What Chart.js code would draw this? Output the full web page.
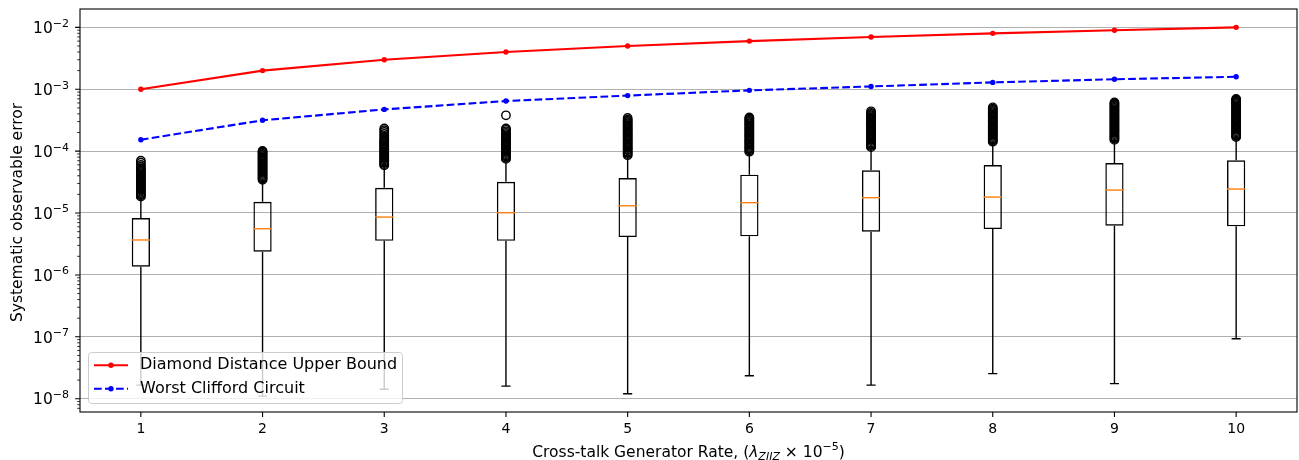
<!DOCTYPE html>
<html>
<head>
<meta charset="utf-8">
<script src="https://cdn.jsdelivr.net/npm/chart.js@4.4.1/dist/chart.umd.min.js"></script>
<style>
    html, body { margin: 0; padding: 0; background: #fff; }
</style>
</head>
<body>
<canvas id="kutu" width="1299" height="460"></canvas>
<script>
// x positions (cross-talk rate, x 1e-5)
const rates = [1, 2, 3, 4, 5, 6, 7, 8, 9, 10];

// line series
const diamondBound = [1.0e-3, 2.0e-3, 3.0e-3, 4.0e-3, 5.0e-3, 6.0e-3, 7.0e-3, 8.0e-3, 9.0e-3, 1.0e-2];
const worstClifford = [1.53e-4, 3.15e-4, 4.73e-4, 6.45e-4, 7.9e-4, 9.6e-4, 1.11e-3, 1.29e-3, 1.45e-3, 1.59e-3];

// box plot summary
const whiskerLow = [1.66e-8, 1.1e-8, 1.42e-8, 1.6e-8, 1.2e-8, 2.35e-8, 1.66e-8, 2.54e-8, 1.75e-8, 9.3e-8];
const boxQ1 = [1.36e-6, 2.37e-6, 3.56e-6, 3.56e-6, 4.09e-6, 4.2e-6, 4.99e-6, 5.5e-6, 6.24e-6, 6.1e-6];
const boxMedian = [3.67e-6, 5.57e-6, 8.6e-6, 1.01e-5, 1.31e-5, 1.47e-5, 1.77e-5, 1.81e-5, 2.35e-5, 2.44e-5];
const boxQ3 = [8.3e-6, 1.52e-5, 2.56e-5, 3.2e-5, 3.67e-5, 4.16e-5, 4.9e-5, 5.97e-5, 6.43e-5, 7.1e-5];
const whiskerHigh = [1.75e-5, 3.3e-5, 5.7e-5, 7.2e-5, 8.3e-5, 9.4e-5, 1.12e-4, 1.37e-4, 1.48e-4, 1.64e-4];

// outliers (x 1e-5)
const fliers = [
    [1.85, 1.93, 2.02, 2.11, 2.2, 2.3, 2.4, 2.51, 2.62, 2.74, 2.86, 2.99, 3.12, 3.26, 3.41, 3.56, 3.72, 3.89, 4.06, 4.24, 4.43, 4.63, 4.84, 5.06, 5.3, 5.6, 6.0, 6.5, 7.0],
    [3.45, 3.6, 3.76, 3.93, 4.11, 4.29, 4.48, 4.68, 4.89, 5.11, 5.34, 5.58, 5.83, 6.09, 6.36, 6.65, 6.95, 7.26, 7.59, 7.93, 8.29, 8.66, 9.05, 9.46, 9.8, 10.1],
    [5.9, 6.17, 6.45, 6.74, 7.04, 7.36, 7.69, 8.04, 8.4, 8.78, 9.17, 9.58, 10.0, 10.5, 10.9, 11.4, 11.9, 12.5, 13.0, 13.6, 14.2, 14.9, 15.5, 16.5, 17.7, 19.0, 20.4, 21.8, 23.3],
    [7.5, 7.84, 8.19, 8.56, 8.94, 9.34, 9.76, 10.2, 10.7, 11.1, 11.6, 12.2, 12.7, 13.3, 13.9, 14.5, 15.2, 15.9, 16.6, 17.3, 18.1, 18.9, 19.8, 20.9, 22.1, 23.3, 37.9],
    [8.6, 8.99, 9.39, 9.81, 10.3, 10.7, 11.2, 11.7, 12.2, 12.8, 13.4, 14.0, 14.6, 15.3, 15.9, 16.7, 17.4, 18.2, 19.0, 19.9, 20.8, 21.7, 22.7, 23.7, 24.8, 25.9, 27.1, 28.3, 29.6, 30.9, 32.3, 34.3],
    [9.8, 10.2, 10.7, 11.2, 11.7, 12.2, 12.8, 13.4, 14.0, 14.6, 15.3, 15.9, 16.7, 17.4, 18.2, 19.0, 19.9, 20.8, 21.7, 22.7, 23.7, 24.8, 25.9, 27.1, 28.3, 29.6, 30.9, 32.3, 33.7, 35.0],
    [11.6, 12.1, 12.7, 13.2, 13.8, 14.5, 15.1, 15.8, 16.5, 17.2, 18.0, 18.8, 19.7, 20.6, 21.5, 22.5, 23.5, 24.5, 25.6, 26.8, 28.0, 29.3, 30.6, 32.0, 33.4, 34.9, 36.5, 38.1, 39.8, 41.6, 44.0],
    [14.2, 14.8, 15.5, 16.2, 16.9, 17.7, 18.5, 19.3, 20.2, 21.1, 22.0, 23.0, 24.0, 25.1, 26.2, 27.4, 28.7, 30.0, 31.3, 32.7, 34.2, 35.7, 37.3, 39.0, 40.8, 42.6, 44.5, 46.5, 48.6, 51.0],
    [15.2, 15.9, 16.6, 17.3, 18.1, 18.9, 19.8, 20.7, 21.6, 22.6, 23.6, 24.6, 25.7, 26.9, 28.1, 29.4, 30.7, 32.1, 33.5, 35.0, 36.6, 38.2, 39.9, 41.7, 43.6, 45.6, 47.6, 49.8, 52.0, 54.3, 56.8, 59.0, 61.4],
    [16.9, 17.7, 18.4, 19.3, 20.1, 21.0, 22.0, 23.0, 24.0, 25.1, 26.2, 27.4, 28.6, 29.9, 31.2, 32.6, 34.1, 35.6, 37.2, 38.9, 40.7, 42.5, 44.4, 46.4, 48.5, 50.7, 53.0, 55.3, 57.8, 60.4, 63.1, 65.7, 68.0, 70.0]
];

// axis ticks
const yExponents = [-8, -7, -6, -5, -4, -3, -2];
const xTickValues = [1, 2, 3, 4, 5, 6, 7, 8, 9, 10];

const FONT = '"DejaVu Sans", sans-serif';
Chart.defaults.font.family = FONT;
Chart.defaults.color = '#000';

const fliersPoints = [];
fliers.forEach((list, i) => list.forEach(v => fliersPoints.push({ x: rates[i], y: v * 1e-5 })));

const boxPlugin = {
    id: 'kutuCizim',
    beforeDatasetsDraw(chart) {
        const { ctx, scales: { x, y } } = chart;
        ctx.save();
        ctx.strokeStyle = '#000';
        ctx.lineWidth = 1.4;
        rates.forEach((r, i) => {
            const px = x.getPixelForValue(r);
            const cw = x.getPixelForValue(r + 0.0375) - px;
            const lo = y.getPixelForValue(whiskerLow[i]);
            const hi = y.getPixelForValue(whiskerHigh[i]);
            ctx.beginPath();
            ctx.moveTo(px, y.getPixelForValue(boxQ1[i]));
            ctx.lineTo(px, lo);
            ctx.moveTo(px, y.getPixelForValue(boxQ3[i]));
            ctx.lineTo(px, hi);
            ctx.moveTo(px - cw, lo);
            ctx.lineTo(px + cw, lo);
            ctx.moveTo(px - cw, hi);
            ctx.lineTo(px + cw, hi);
            ctx.stroke();
        });
        ctx.restore();
    },
    afterDatasetsDraw(chart) {
        const { ctx, scales: { x, y } } = chart;
        ctx.save();
        ctx.strokeStyle = '#ff7f0e';
        ctx.lineWidth = 1.4;
        rates.forEach((r, i) => {
            const x0 = x.getPixelForValue(r - 0.075);
            const x1 = x.getPixelForValue(r + 0.075);
            const my = y.getPixelForValue(boxMedian[i]);
            ctx.beginPath();
            ctx.moveTo(x0, my);
            ctx.lineTo(x1, my);
            ctx.stroke();
        });
        ctx.restore();
    },
    afterDraw(chart) {
        const { ctx, chartArea: a, scales: { x, y } } = chart;
        ctx.save();

        // ticks on y (major + minor) and x
        ctx.strokeStyle = '#000';
        ctx.beginPath();
        ctx.lineWidth = 0.8;
        for (let e = -9; e <= -2; e++) {
            for (let k = 2; k <= 9; k++) {
                const v = k * Math.pow(10, e);
                if (v < y.min || v > y.max) continue;
                const py = y.getPixelForValue(v);
                ctx.moveTo(a.left, py);
                ctx.lineTo(a.left - 2.8, py);
            }
        }
        ctx.stroke();
        ctx.beginPath();
        ctx.lineWidth = 1.1;
        yExponents.forEach(e => {
            const py = y.getPixelForValue(Math.pow(10, e));
            ctx.moveTo(a.left, py);
            ctx.lineTo(a.left - 4.9, py);
        });
        xTickValues.forEach(v => {
            const px = x.getPixelForValue(v);
            ctx.moveTo(px, a.bottom);
            ctx.lineTo(px, a.bottom + 4.9);
        });
        ctx.stroke();

        // y tick labels 10^e
        ctx.fillStyle = '#000';
        ctx.textAlign = 'right';
        ctx.textBaseline = 'alphabetic';
        yExponents.forEach(e => {
            const py = y.getPixelForValue(Math.pow(10, e));
            const sup = '\u2212' + Math.abs(e);
            ctx.font = '11px ' + FONT;
            const sw = ctx.measureText(sup).width;
            ctx.fillText(sup, 69, py - 0.6);
            ctx.font = '15.5px ' + FONT;
            ctx.fillText('10', 69 - sw, py + 5.7);
        });

        // frame
        ctx.lineWidth = 1.1;
        ctx.strokeRect(a.left, a.top, a.right - a.left, a.bottom - a.top);

        // y title
        ctx.save();
        ctx.translate(18, (a.top + a.bottom) / 2 + 2);
        ctx.rotate(-Math.PI / 2);
        ctx.textAlign = 'center';
        ctx.textBaseline = 'middle';
        ctx.font = '15.5px ' + FONT;
        ctx.fillText('Systematic observable error', 0, 0);
        ctx.restore();

        // x title with sub/superscripts
        const parts = [
            { t: 'Cross-talk Generator Rate, (', f: '15.5px ' + FONT, dy: 0 },
            { t: '\u03bb', f: 'italic 15.5px ' + FONT, dy: 0 },
            { t: 'ZIIZ', f: 'italic 11px ' + FONT, dy: 3.5 },
            { t: ' \u00d7 10', f: '15.5px ' + FONT, dy: 0 },
            { t: '\u22125', f: '11px ' + FONT, dy: -6.5 },
            { t: ')', f: '15.5px ' + FONT, dy: 0 }
        ];
        let total = 0;
        parts.forEach(p => { ctx.font = p.f; p.w = ctx.measureText(p.t).width; total += p.w; });
        let cx = (a.left + a.right) / 2 - total / 2;
        ctx.textAlign = 'left';
        parts.forEach(p => {
            ctx.font = p.f;
            ctx.fillText(p.t, cx, 456.5 + p.dy);
            cx += p.w;
        });

        // legend (lower left, inside)
        const lx = 88.5, ly = 352.5, lw = 314, lh = 51;
        ctx.beginPath();
        ctx.roundRect(lx, ly, lw, lh, 3);
        ctx.fillStyle = 'rgba(255,255,255,0.8)';
        ctx.fill();
        ctx.strokeStyle = '#cccccc';
        ctx.lineWidth = 1;
        ctx.stroke();
        const rows = [
            { label: 'Diamond Distance Upper Bound', color: '#ff0000', dash: [], yy: 365.3 },
            { label: 'Worst Clifford Circuit', color: '#0000ff', dash: [7.7, 3.3], yy: 388.7 }
        ];
        rows.forEach(rw => {
            ctx.strokeStyle = rw.color;
            ctx.fillStyle = rw.color;
            ctx.lineWidth = 2.1;
            ctx.setLineDash(rw.dash);
            ctx.beginPath();
            ctx.moveTo(94, rw.yy);
            ctx.lineTo(128, rw.yy);
            ctx.stroke();
            ctx.setLineDash([]);
            ctx.beginPath();
            ctx.arc(111, rw.yy, 2.7, 0, Math.PI * 2);
            ctx.fill();
            ctx.fillStyle = '#000';
            ctx.font = '16px ' + FONT;
            ctx.textBaseline = 'middle';
            ctx.fillText(rw.label, 140, rw.yy);
            ctx.textBaseline = 'alphabetic';
        });

        ctx.restore();
    }
};

const ctx = document.getElementById('kutu').getContext('2d');
new Chart(ctx, {
    type: 'line',
    data: {
        datasets: [
            {
                label: 'Diamond Distance Upper Bound',
                data: rates.map((r, i) => ({ x: r, y: diamondBound[i] })),
                borderColor: '#ff0000',
                backgroundColor: '#ff0000',
                borderWidth: 2.1,
                pointRadius: 2.7,
                pointBorderWidth: 0,
                tension: 0,
                order: 0
            },
            {
                label: 'Worst Clifford Circuit',
                data: rates.map((r, i) => ({ x: r, y: worstClifford[i] })),
                borderColor: '#0000ff',
                backgroundColor: '#0000ff',
                borderWidth: 2.1,
                borderDash: [7.7, 3.3],
                pointRadius: 2.7,
                pointBorderWidth: 0,
                tension: 0,
                order: 1
            },
            {
                label: 'fliers',
                data: fliersPoints,
                showLine: false,
                pointStyle: 'circle',
                pointRadius: 4.2,
                pointBorderWidth: 1.4,
                pointBorderColor: '#000',
                pointBackgroundColor: 'rgba(0,0,0,0)',
                order: 2
            },
            {
                type: 'bar',
                label: 'boxes',
                data: rates.map((r, i) => ({ x: r, y: [boxQ1[i], boxQ3[i]] })),
                backgroundColor: 'rgba(0,0,0,0)',
                borderColor: '#000',
                borderWidth: 1.4,
                borderSkipped: false,
                categoryPercentage: 1,
                barPercentage: 0.15,
                order: 3
            }
        ]
    },
    options: {
        responsive: false,
        devicePixelRatio: 1,
        animation: false,
        events: [],
        layout: { padding: { top: 9, right: 2, left: 0, bottom: 0 }, autoPadding: false },
        plugins: {
            legend: { display: false },
            tooltip: { enabled: false }
        },
        scales: {
            x: {
                type: 'linear',
                offset: false,
                min: 0.5,
                max: 10.5,
                afterBuildTicks: s => { s.ticks = xTickValues.map(v => ({ value: v })); },
                afterFit: s => { s.height = 48; },
                grid: { display: false, drawTicks: false, offset: false },
                border: { display: false },
                ticks: {
                    font: { size: 14 },
                    color: '#000',
                    padding: 8.5,
                    maxRotation: 0
                }
            },
            y: {
                type: 'logarithmic',
                min: 6.1e-9,
                max: 1.98e-2,
                afterBuildTicks: s => { s.ticks = yExponents.map(e => ({ value: Math.pow(10, e) })); },
                afterFit: s => { s.width = 80; },
                grid: { color: '#b0b0b0', lineWidth: 1.1, drawTicks: false },
                border: { display: false },
                ticks: { display: false }
            }
        }
    },
    plugins: [boxPlugin]
});
</script>
</body>
</html>
